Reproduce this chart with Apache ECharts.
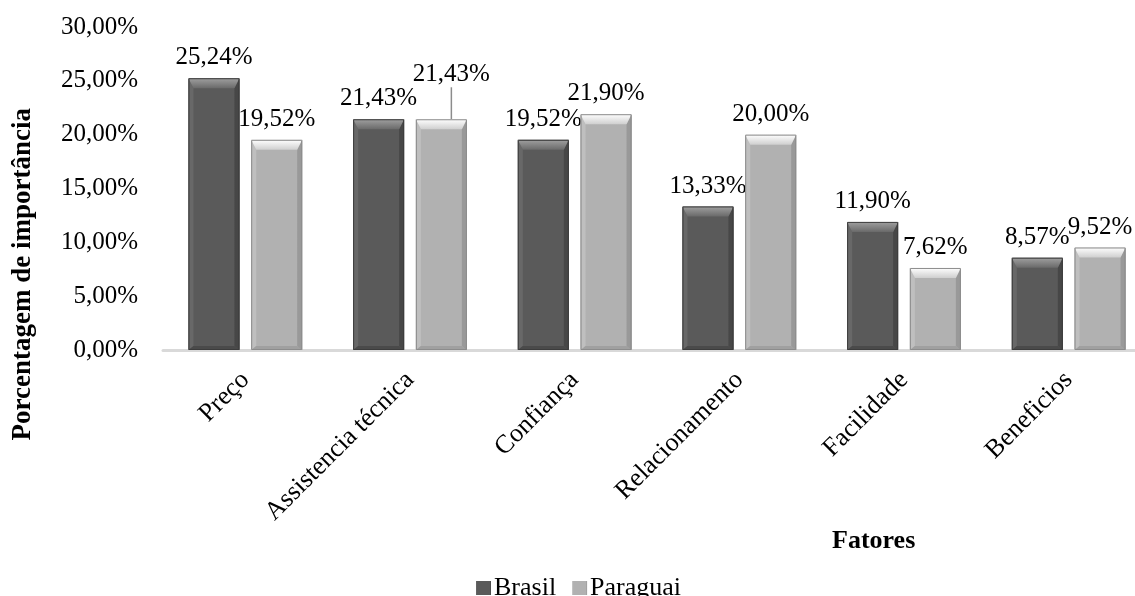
<!DOCTYPE html>
<html>
<head>
<meta charset="utf-8">
<style>
  html, body { margin: 0; padding: 0; background: #fff; }
  #chart { width: 1135px; height: 596px; }
</style>
<script src="https://cdn.jsdelivr.net/npm/echarts@6/dist/echarts.min.js"></script>
</head>
<body>
<div id="chart"></div>
<script>
// Factors and their share of importance (%) by country
const categories = ['Preço', 'Assistencia técnica', 'Confiança', 'Relacionamento', 'Facilidade', 'Beneficios'];
const brasil = [25.24, 21.43, 19.52, 13.33, 11.90, 8.57];
const paraguai = [19.52, 21.43, 21.90, 20.00, 7.62, 9.52];
const seriesNames = ['Brasil', 'Paraguai'];
const yTicks = { min: 0, max: 30, interval: 5 };

const FONT = '"Liberation Serif", "Times New Roman", serif';
const pct = v => v.toFixed(2).replace('.', ',') + '%';

const BAR_W = 51;
const BAR_GAP = 0.23;   // fraction of bar width

// bevel palettes
const palettes = [
  { main: '#5a5a5a', top: ['#a0a0a0', '#6a6a6a'], left: '#686868', right: '#474747', bottom: '#4a4a4a', border: '#3c3c3c' },
  { main: '#b1b1b1', top: ['#ffffff', '#cfcfcf'], left: '#bfbfbf', right: '#999999', bottom: '#a0a0a0', border: '#8c8c8c' }
];

function barFill(p) {
  return new echarts.graphic.LinearGradient(0, 0, 1, 0, [
    { offset: 0, color: p.left },
    { offset: 0.1, color: p.main },
    { offset: 0.9, color: p.main },
    { offset: 1, color: p.right }
  ]);
}

// bevel faces drawn on top of each bar, positioned from the same axis scales
function bevelRenderer(idx) {
  const p = palettes[idx];
  return function (params, api) {
    const cat = api.value(0);
    const val = api.value(1);
    const gap = BAR_W * BAR_GAP;
    const total = BAR_W * 2 + gap;
    const center = api.coord([cat, 0])[0];
    const x0 = center - total / 2 + idx * (BAR_W + gap);
    const x1 = x0 + BAR_W;
    const y0 = api.coord([cat, val])[1];
    const y1 = api.coord([cat, 0])[1];
    const t = Math.min(10, (y1 - y0) / 2), s = 5, b = 4;
    return {
      type: 'group',
      silent: true,
      children: [
        { type: 'polygon', shape: { points: [[x0, y0], [x0 + s, y0 + t], [x0 + s, y1 - b], [x0, y1]] }, style: { fill: p.left } },
        { type: 'polygon', shape: { points: [[x1, y0], [x1 - s, y0 + t], [x1 - s, y1 - b], [x1, y1]] }, style: { fill: p.right } },
        { type: 'polygon', shape: { points: [[x0, y1], [x0 + s, y1 - b], [x1 - s, y1 - b], [x1, y1]] }, style: { fill: p.bottom } },
        {
          type: 'polygon',
          shape: { points: [[x0, y0], [x1, y0], [x1 - s, y0 + t], [x0 + s, y0 + t]] },
          style: { fill: new echarts.graphic.LinearGradient(0, 0, 0, 1, [
            { offset: 0, color: p.top[0] }, { offset: 1, color: p.top[1] }
          ]) }
        },
        { type: 'rect', shape: { x: x0 + 0.5, y: y0 + 0.5, width: BAR_W - 1, height: y1 - y0 - 1 }, style: { fill: null, stroke: p.border, lineWidth: 1 } }
      ]
    };
  };
}

const chart = echarts.init(document.getElementById('chart'), null, { renderer: 'canvas' });

const labelStyle = {
  show: true,
  position: 'top',
  distance: 8,
  color: '#000',
  fontFamily: FONT,
  fontSize: 25,
  formatter: p => pct(p.value)
};

chart.setOption({
  backgroundColor: '#fff',
  animation: false,
  textStyle: { fontFamily: FONT },
  grid: { left: 163, width: 988, top: 27, bottom: 246, containLabel: false, outerBoundsMode: 'none' },
  legend: {
    data: seriesNames,
    left: 471,
    top: 570,
    icon: 'rect',
    itemWidth: 15,
    itemHeight: 14,
    itemGap: 16,
    textStyle: { fontFamily: FONT, fontSize: 26, color: '#000', padding: [0, 0, 0, -2] }
  },
  xAxis: {
    type: 'category',
    data: categories,
    axisLine: { show: true, lineStyle: { color: '#d9d9d9', width: 3 } },
    axisTick: { show: false },
    axisLabel: {
      rotate: 45,
      margin: 26,
      interval: 0,
      color: '#000',
      fontFamily: FONT,
      fontSize: 26
    }
  },
  yAxis: {
    type: 'value',
    min: yTicks.min,
    max: yTicks.max,
    interval: yTicks.interval,
    axisLine: { show: false },
    axisTick: { show: false },
    splitLine: { show: false },
    axisLabel: {
      margin: 25,
      color: '#000',
      fontFamily: FONT,
      fontSize: 25,
      formatter: v => pct(v)
    }
  },
  graphic: [
    {
      type: 'text',
      left: 10,
      top: 108,
      rotation: Math.PI / 2,
      style: {
        text: 'Porcentagem de importância',
        fontFamily: FONT,
        fontWeight: 'bold',
        fontSize: 27,
        fill: '#000'
      }
    },
    {
      type: 'text',
      left: 832,
      top: 528,
      style: {
        text: 'Fatores',
        fontFamily: FONT,
        fontWeight: 'bold',
        fontSize: 26,
        fill: '#000'
      }
    }
  ],
  series: [
    {
      name: seriesNames[0],
      type: 'bar',
      data: brasil,
      barWidth: BAR_W,
      barGap: (BAR_GAP * 100) + '%',
      itemStyle: { color: barFill(palettes[0]) },
      label: labelStyle
    },
    {
      name: seriesNames[1],
      type: 'bar',
      data: paraguai.map((v, i) => i === 1
        ? { value: v, labelLine: { show: true, lineStyle: { color: '#8c8c8c', width: 1.5 } } }
        : v),
      barWidth: BAR_W,
      itemStyle: { color: barFill(palettes[1]) },
      label: labelStyle,
      labelLayout: p => p.dataIndex === 1 ? { dx: 10, dy: -24 } : {}
    },
    {
      type: 'custom',
      name: 'bevel-brasil',
      renderItem: bevelRenderer(0),
      data: brasil.map((v, i) => [i, v]),
      z: 3,
      silent: true
    },
    {
      type: 'custom',
      name: 'bevel-paraguai',
      renderItem: bevelRenderer(1),
      data: paraguai.map((v, i) => [i, v]),
      z: 3,
      silent: true
    }
  ]
});
</script>
</body>
</html>
